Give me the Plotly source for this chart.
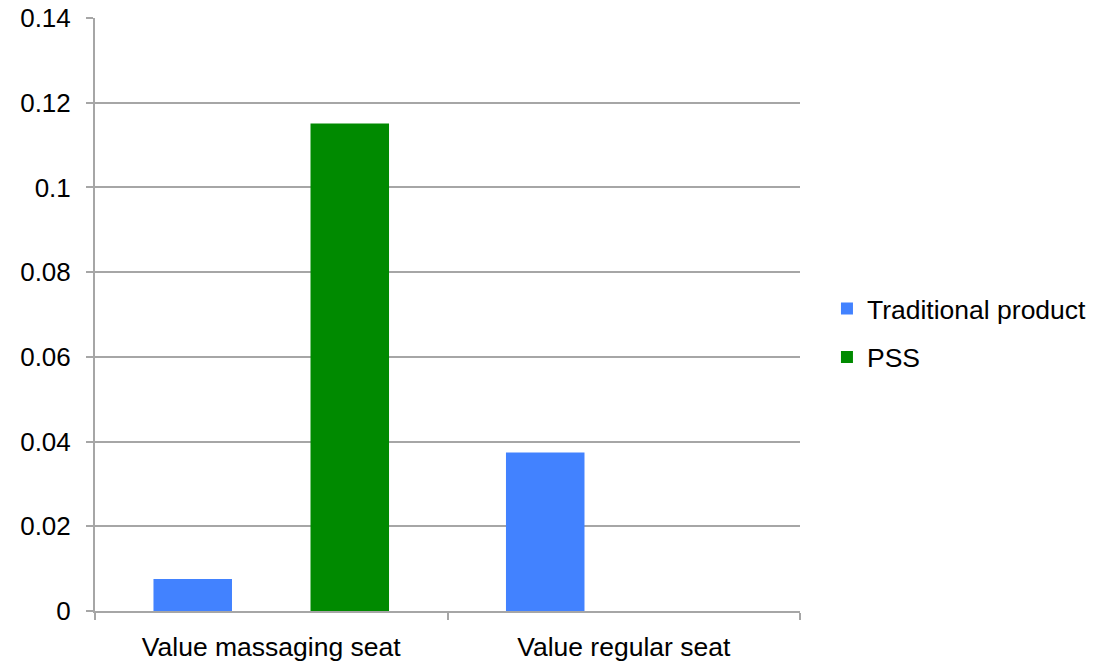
import plotly.graph_objects as go

categories = ["Value massaging seat", "Value regular seat"]
traditional = [0.00755, 0.0374]
pss = [0.1151, 0.0]
y_tick_vals = [0, 0.02, 0.04, 0.06, 0.08, 0.10, 0.12, 0.14]
y_tick_text = ["0", "0.02", "0.04", "0.06", "0.08", "0.1", "0.12", "0.14"]

FONT = "Liberation Sans, Arial, sans-serif"
GRID = "#a6a6a6"

fig = go.Figure()
fig.add_trace(go.Bar(name="Traditional product", x=categories, y=traditional,
                     marker=dict(color="#4282ff", line=dict(width=0)), legendgroup="a"))
fig.add_trace(go.Bar(name="PSS", x=categories, y=pss,
                     marker=dict(color="#008a00", line=dict(width=0)), legendgroup="b"))

fig.update_layout(
    width=1093, height=661,
    margin=dict(l=95, r=293, t=18, b=50),
    paper_bgcolor="white", plot_bgcolor="white",
    barmode="group", bargap=0.109, bargroupgap=0.5,
    font=dict(family=FONT, size=26, color="black"),
    showlegend=True,
    legend=dict(xref="container", yref="container",
                x=0.7566, y=0.4965, xanchor="left", yanchor="middle",
                traceorder="grouped", tracegroupgap=11,
                font=dict(family=FONT, size=26.5, color="black"),
                itemwidth=30, bgcolor="rgba(0,0,0,0)"),
    xaxis=dict(showline=True, linecolor=GRID, linewidth=2, ticks="outside",
               tickson="boundaries", ticklen=7, tickcolor=GRID, tickwidth=2,
               showgrid=False, ticklabelstandoff=11, automargin=False,
               tickfont=dict(size=26.5, family=FONT)),
    yaxis=dict(range=[0, 0.14], tickvals=y_tick_vals, ticktext=y_tick_text,
               showline=True, linecolor=GRID, linewidth=2, ticks="outside",
               ticklen=7, tickcolor=GRID, tickwidth=2,
               showgrid=True, gridcolor=GRID, gridwidth=2,
               zeroline=False, ticklabelstandoff=10, automargin=False,
               tickfont=dict(size=26, family=FONT)),
)

fig.write_html("out.html")
